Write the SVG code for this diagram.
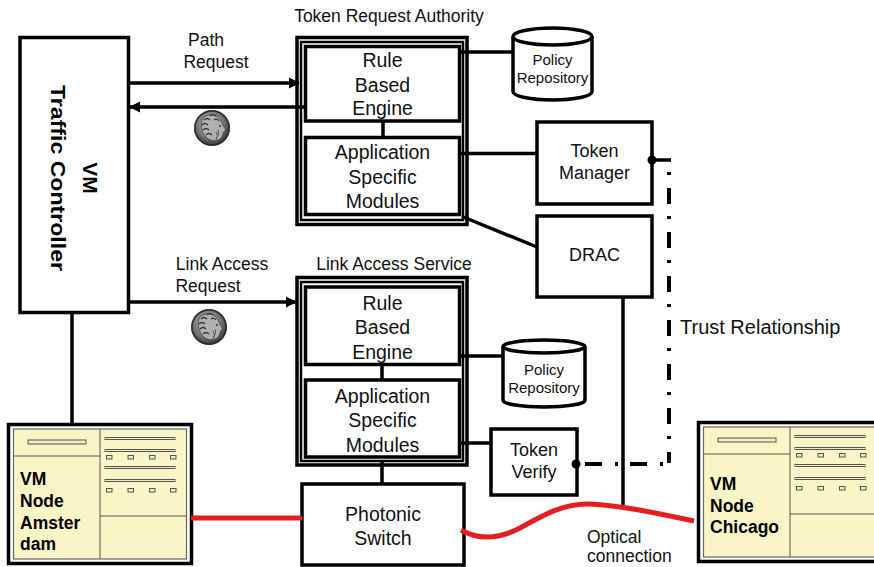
<svg xmlns="http://www.w3.org/2000/svg" xmlns:xlink="http://www.w3.org/1999/xlink" width="874" height="567" viewBox="0 0 874 567">
  <style>
    .box { fill: #ffffff; stroke: #000; stroke-width: 3.5; }
    .frame-in { fill: none; stroke: #000; stroke-width: 2.5; }
    .wire { fill: none; stroke: #000; stroke-width: 3.5; }
    .trust { fill: none; stroke: #000; stroke-width: 4; }
    .optic { fill: none; stroke: #e41e1e; stroke-width: 5; }
    .lbl { font-family: "Liberation Sans", Arial, sans-serif; fill: #111; text-anchor: middle; }
    .big { font-size: 19.5px; }
    .mid { font-size: 18px; }
    .sm { font-size: 15px; }
    .cap { font-family: "Liberation Sans", Arial, sans-serif; fill: #111; font-size: 17.5px; }
    .cap-lg { font-family: "Liberation Sans", Arial, sans-serif; fill: #111; font-size: 20px; }
    .bold { font-family: "Liberation Sans", Arial, sans-serif; font-weight: bold; fill: #000; }
    .panel-out { fill: #fff; stroke: #000; stroke-width: 3.5; }
    .panel-in { fill: #faf5c6; stroke: #666; stroke-width: 1.2; }
    .pl { stroke: #555; stroke-width: 1; fill: none; }
    .slot { fill: #f3eec0; stroke: #555; stroke-width: 1; }
  </style>
  <defs>
    <marker id="arr" viewBox="0 0 10 10" refX="9" refY="5" markerWidth="3.2" markerHeight="3.2" orient="auto-start-reverse">
      <path d="M0,0 L10,5 L0,10 Z" fill="#000"/>
    </marker>
    <radialGradient id="coinG" cx="0.45" cy="0.4" r="0.6">
      <stop offset="0" stop-color="#c4c4c4"/>
      <stop offset="0.6" stop-color="#7a7a7a"/>
      <stop offset="1" stop-color="#333"/>
    </radialGradient>
    <!-- coin emblem: bearded head in profile -->
    <g id="coin">
      <circle r="18" fill="url(#coinG)"/>
      <circle r="17" fill="none" stroke="#2e2e2e" stroke-width="1.5"/>
      <path d="M-9,-10 C-4,-15 6,-14 9,-7 C11,-3 12,0 14,2 C12,3 11,4 11,6 C10,9 9,11 6,12 C2,14 -4,12 -7,8 C-11,3 -12,-5 -9,-10 Z" fill="#b0b0b0" stroke="#444" stroke-width="0.8"/>
      <path d="M-8,-8 q3,-3 6,0 M-10,-3 q3,-3 6,0 M-9,2 q3,-3 6,0 M-6,7 q3,-3 6,0 M-2,-12 q3,-3 6,0 M2,-8 q3,-2 5,1" stroke="#333" stroke-width="1.2" fill="none"/>
      <path d="M4,4 q3,4 0,8 M6,2 q2,5 -2,9" stroke="#555" stroke-width="1" fill="none"/>
      <circle cx="8" cy="-2" r="1" fill="#333"/>
    </g>
    <!-- workstation panel (node frame without caption) -->
    <g id="panel">
      <rect class="panel-out" x="0" y="0" width="183" height="139"/>
      <rect class="panel-in" x="5" y="4.5" width="173" height="130"/>
      <line class="pl" x1="91.5" y1="4.5" x2="91.5" y2="134.5"/>
      <line class="pl" x1="5" y1="31.5" x2="91.5" y2="31.5"/>
      <line class="pl" x1="91.5" y1="91.5" x2="178" y2="91.5"/>
      <rect class="slot" x="19.5" y="15.5" width="58" height="4"/>
      <rect class="slot" x="96.5" y="13" width="70" height="2"/>
      <rect class="slot" x="96.5" y="25" width="70" height="2"/>
      <rect class="slot" x="96.5" y="42" width="70" height="2"/>
      <rect class="slot" x="96.5" y="55" width="70" height="2"/>
      <g class="slot">
        <rect x="98" y="31" width="5.5" height="3.5"/>
        <rect x="119.5" y="31" width="5.5" height="3.5"/>
        <rect x="141" y="31" width="5.5" height="3.5"/>
        <rect x="162" y="31" width="5.5" height="3.5"/>
        <rect x="98" y="64" width="5.5" height="3.5"/>
        <rect x="119.5" y="64" width="5.5" height="3.5"/>
        <rect x="141" y="64" width="5.5" height="3.5"/>
        <rect x="162" y="64" width="5.5" height="3.5"/>
      </g>
    </g>
  </defs>

  <rect width="874" height="567" fill="#fff"/>

  <!-- VM Traffic Controller -->
  <g id="traffic-controller">
    <rect class="box" x="20" y="37.5" width="108.5" height="275"/>
    <text class="bold" font-size="21" text-anchor="middle" transform="translate(83,178) rotate(90)">VM</text>
    <text class="bold" font-size="21" text-anchor="middle" textLength="186" lengthAdjust="spacingAndGlyphs" transform="translate(51,178) rotate(90)">Traffic Controller</text>
  </g>

  <!-- labels on request arrows -->
  <g id="path-request">
    <text class="cap" x="206" y="46" text-anchor="middle">Path</text>
    <text class="cap" x="216" y="68" text-anchor="middle">Request</text>
    <use xlink:href="#coin" href="#coin" x="212" y="128"/>
  </g>
  <g id="link-request">
    <text class="cap" x="222" y="270" text-anchor="middle">Link Access</text>
    <text class="cap" x="208" y="292" text-anchor="middle">Request</text>
    <use xlink:href="#coin" href="#coin" x="209" y="327"/>
  </g>

  <!-- Token Request Authority -->
  <g id="token-request-authority">
    <text class="cap" x="389" y="22" text-anchor="middle">Token Request Authority</text>
    <rect class="box" x="297" y="37.5" width="170" height="187"/>
    <rect class="frame-in" x="301" y="42" width="162" height="178"/>
    <g id="tra-engine">
      <rect class="box" x="305.5" y="46.5" width="154" height="74.5"/>
      <text class="lbl big" x="382.5" y="67">Rule</text>
      <text class="lbl big" x="382.5" y="91.5">Based</text>
      <text class="lbl big" x="382.5" y="115">Engine</text>
    </g>
    <g id="tra-modules">
      <rect class="box" x="305.5" y="137.5" width="154" height="77"/>
      <text class="lbl big" x="382.5" y="159">Application</text>
      <text class="lbl big" x="382.5" y="183.5">Specific</text>
      <text class="lbl big" x="382.5" y="207.5">Modules</text>
    </g>
  </g>

  <!-- Policy Repository (authority) -->
  <g id="policy-repo-1">
    <path class="box" d="M513,36.5 A39.5,8.5 0 0 1 592,36.5 L592,91.5 A39.5,8.5 0 0 1 513,91.5 Z"/>
    <path class="wire" d="M513,36.5 A39.5,8.5 0 0 0 592,36.5"/>
    <text class="lbl sm" x="552.5" y="65">Policy</text>
    <text class="lbl sm" x="552.5" y="83">Repository</text>
  </g>

  <!-- Token Manager -->
  <g id="token-manager">
    <rect class="box" x="537" y="122" width="115" height="82"/>
    <text class="lbl mid" x="594.5" y="157">Token</text>
    <text class="lbl mid" x="594.5" y="179">Manager</text>
  </g>

  <!-- DRAC -->
  <g id="drac">
    <rect class="box" x="537" y="216" width="115" height="81"/>
    <text class="lbl mid" x="594.5" y="261">DRAC</text>
  </g>

  <text class="cap-lg" x="680" y="334">Trust Relationship</text>

  <!-- Link Access Service -->
  <g id="link-access-service">
    <text class="cap" x="394" y="270" text-anchor="middle">Link Access Service</text>
    <rect class="box" x="297" y="277.5" width="170" height="187.5"/>
    <rect class="frame-in" x="301" y="282" width="162" height="179"/>
    <g id="las-engine">
      <rect class="box" x="305.5" y="287" width="154" height="77.5"/>
      <text class="lbl big" x="382.5" y="310">Rule</text>
      <text class="lbl big" x="382.5" y="334">Based</text>
      <text class="lbl big" x="382.5" y="359">Engine</text>
    </g>
    <g id="las-modules">
      <rect class="box" x="305.5" y="380" width="154" height="77"/>
      <text class="lbl big" x="382.5" y="403">Application</text>
      <text class="lbl big" x="382.5" y="427">Specific</text>
      <text class="lbl big" x="382.5" y="452">Modules</text>
    </g>
  </g>

  <!-- Policy Repository (access service) -->
  <g id="policy-repo-2">
    <path class="box" d="M503,346.5 A41,6.5 0 0 1 585,346.5 L585,400.5 A41,6.5 0 0 1 503,400.5 Z"/>
    <path class="wire" d="M503,346.5 A41,6.5 0 0 0 585,346.5"/>
    <text class="lbl sm" x="544" y="375">Policy</text>
    <text class="lbl sm" x="544" y="393">Repository</text>
  </g>

  <!-- Token Verify -->
  <g id="token-verify">
    <rect class="box" x="491" y="429" width="86" height="66"/>
    <text class="lbl mid" x="534" y="456">Token</text>
    <text class="lbl mid" x="534" y="478">Verify</text>
  </g>

  <!-- Photonic Switch -->
  <g id="photonic-switch">
    <rect class="box" x="302" y="484" width="162" height="81"/>
    <text class="lbl big" x="383" y="521">Photonic</text>
    <text class="lbl big" x="383" y="545">Switch</text>
  </g>

  <g id="optical-label">
    <text class="cap" x="587" y="543">Optical</text>
    <text class="cap" x="587" y="562">connection</text>
  </g>

  <!-- VM Node Amsterdam -->
  <g id="node-amsterdam">
    <use xlink:href="#panel" href="#panel" x="8.5" y="424.5"/>
    <text class="bold" font-size="17.5" x="20" y="485">VM</text>
    <text class="bold" font-size="17.5" x="20" y="507">Node</text>
    <text class="bold" font-size="17.5" x="20" y="529">Amster</text>
    <text class="bold" font-size="17.5" x="20" y="550">dam</text>
  </g>

  <!-- VM Node Chicago -->
  <g id="node-chicago">
    <use xlink:href="#panel" href="#panel" x="698.5" y="422.5"/>
    <text class="bold" font-size="17.5" x="710" y="490">VM</text>
    <text class="bold" font-size="17.5" x="710" y="511.5">Node</text>
    <text class="bold" font-size="17.5" x="710" y="533">Chicago</text>
  </g>

  <!-- connectors (drawn over the frames they cross) -->
  <g id="connectors">
    <line class="wire" x1="129" y1="83" x2="299" y2="83" marker-end="url(#arr)"/>
    <line class="wire" x1="305" y1="107" x2="130" y2="107" marker-end="url(#arr)"/>
    <line class="wire" x1="129" y1="302" x2="296" y2="302" marker-end="url(#arr)"/>
    <line class="wire" x1="72" y1="313" x2="72" y2="423"/>
    <line class="wire" x1="383" y1="121" x2="383" y2="137.5"/>
    <line class="wire" x1="382" y1="364.5" x2="382" y2="380"/>
    <line class="wire" x1="382" y1="461" x2="382" y2="484"/>
    <line class="wire" x1="459.5" y1="52" x2="513" y2="52"/>
    <line class="wire" x1="459.5" y1="153.5" x2="537" y2="153.5"/>
    <line class="wire" x1="462" y1="216.5" x2="537" y2="247"/>
    <line class="wire" x1="459.5" y1="356" x2="503" y2="356"/>
    <line class="wire" x1="459.5" y1="443" x2="491" y2="443"/>
    <line class="wire" x1="623" y1="297" x2="623" y2="505"/>
    <!-- trust relationship -->
    <line class="wire" x1="652" y1="160" x2="671" y2="160"/>
    <circle cx="652" cy="160" r="4.5" fill="#000"/>
    <path class="trust" d="M669,172 L669,463" stroke-dasharray="3 13 16 12"/>
    <path class="trust" d="M585,464 L669,464" stroke-dasharray="17 13 3 12"/>
    <circle cx="576" cy="464" r="4.5" fill="#000"/>
    <!-- optical links -->
    <line class="optic" x1="191" y1="518" x2="302" y2="518"/>
    <path class="optic" d="M461,530 C475,538 495,541 520,528 C545,514 565,503 590,504 C625,506 660,514 694,521"/>
  </g>
</svg>
